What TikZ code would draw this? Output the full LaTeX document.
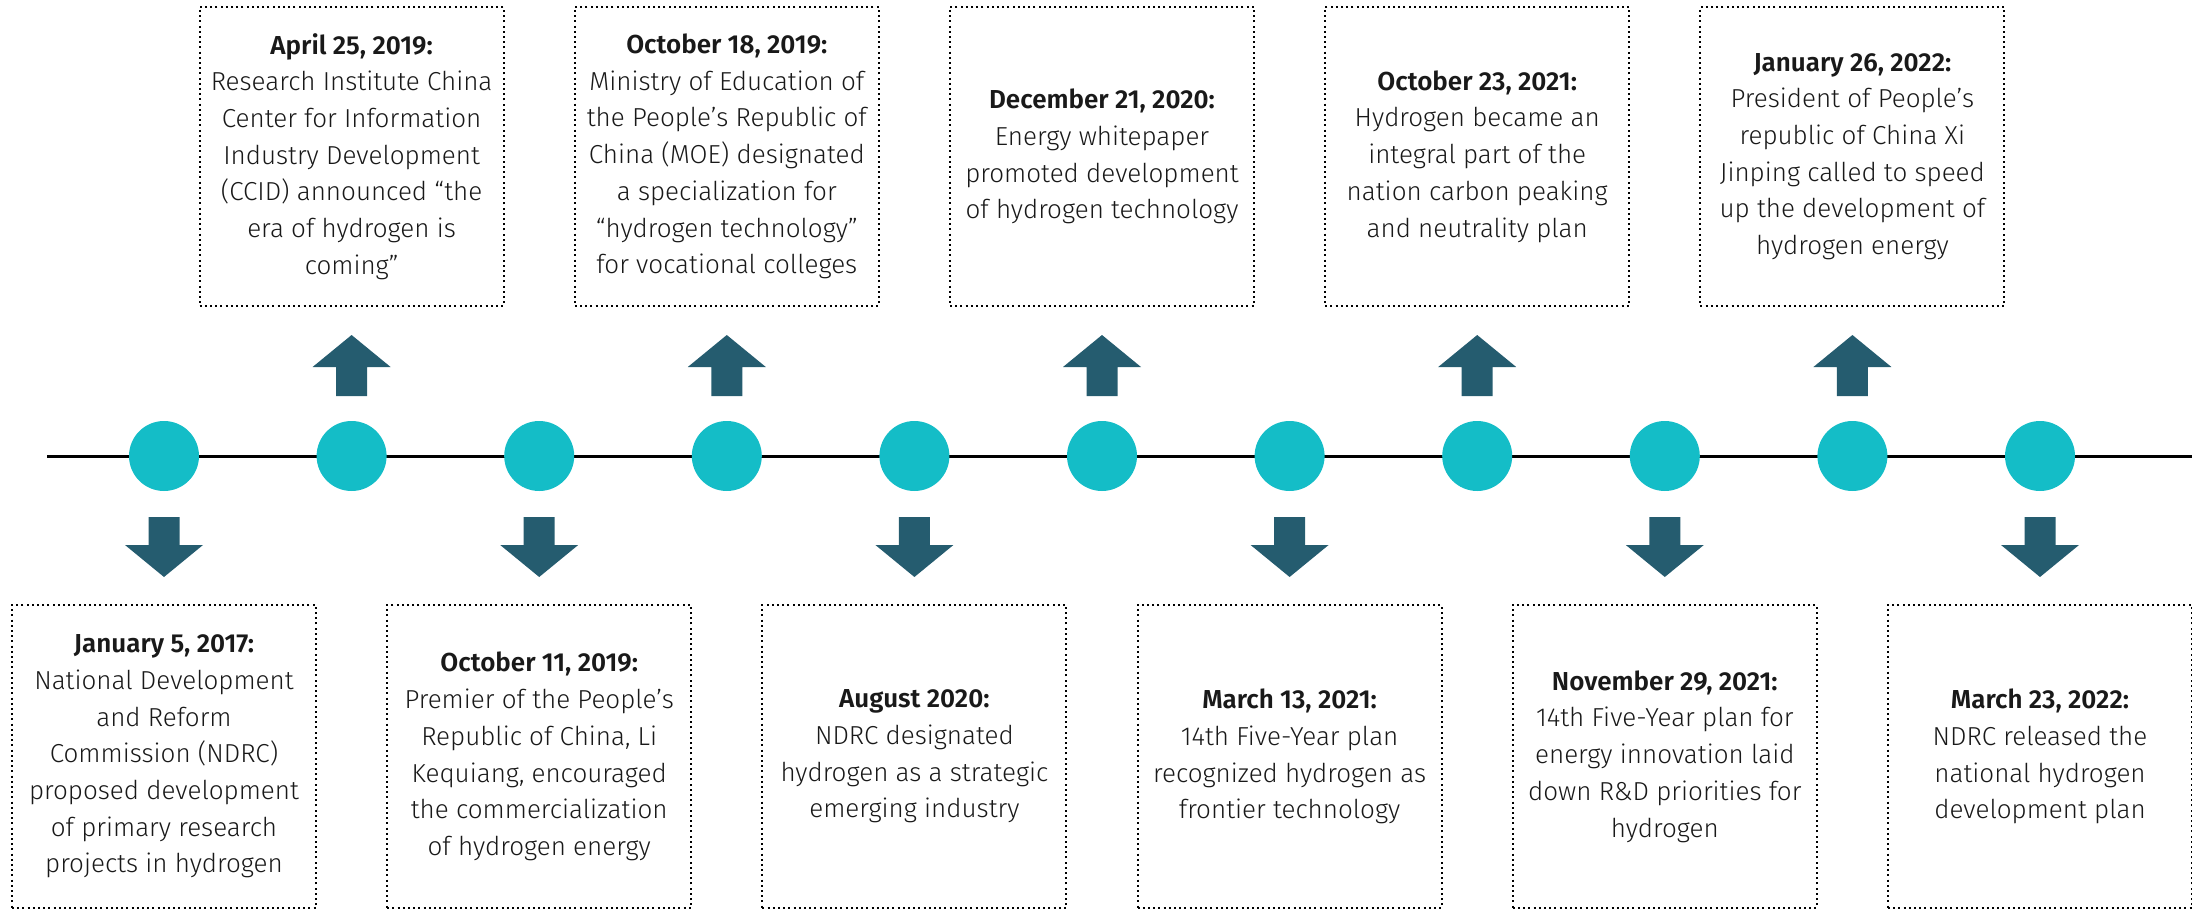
\documentclass[tikz,border=0pt]{standalone}
\usepackage{fontspec}
\setmainfont{Fira Sans}[UprightFont=* Light, BoldFont=* SemiBold]
\definecolor{dotc}{HTML}{14BDC7}
\definecolor{arrc}{HTML}{255C6F}
\tikzset{
  evbox/.style={draw=black, line width=2pt, dash pattern=on 2pt off 3.2pt,
    minimum width=304pt, minimum height=#1, align=center, inner sep=0pt,
    font=\fontsize{26}{36.7}\selectfont, text=black!90},
  evbox/.default=299pt,
  dot/.style={circle, fill=dotc, draw=none, minimum size=70pt, inner sep=0pt},
  arr/.style={fill=arrc, draw=none},
  uparr/.pic={\fill[arr] (-15.5,60) -- (-15.5,89) -- (-39,89) -- (0,121) -- (39,89) -- (15.5,89) -- (15.5,60) -- cycle;},
  downarr/.pic={\fill[arr] (-15.5,-61) -- (-15.5,-89) -- (-39,-89) -- (0,-121) -- (39,-89) -- (15.5,-89) -- (15.5,-61) -- cycle;}
}
\begin{document}
\begin{tikzpicture}[x=1pt,y=1pt]
\useasboundingbox (0,0) rectangle (2192,-909);
\clip (0,0) rectangle (2192,-909);
\coordinate (L) at (47,-456);
\coordinate (R) at (2192,-456);
\draw[line width=3pt] (L) -- (R);
\foreach \k in {0,...,10}{
  \node[dot] (c\k) at ({164+187.6*\k},-456) {};
}
\foreach \k in {1,3,5,7,9}{ \pic at (c\k) {uparr}; }
\foreach \k in {0,2,4,6,8,10}{ \pic at (c\k) {downarr}; }
% top boxes
\node[evbox] (t1) at ({164+187.6*1},-156.5) {\textbf{April 25, 2019:}\\Research Institute China\\Center for Information\\Industry Development\\(CCID) announced “the\\era of hydrogen is\\coming”};
\node[evbox] (t3) at ({164+187.6*3},-156.5) {\textbf{October 18, 2019:}\\Ministry of Education of\\the People’s Republic of\\China (MOE) designated\\a specialization for\\“hydrogen technology”\\for vocational colleges};
\node[evbox] (t5) at ({164+187.6*5},-156.5) {\textbf{December 21, 2020:}\\Energy whitepaper\\promoted development\\of hydrogen technology};
\node[evbox] (t7) at ({164+187.6*7},-156.5) {\textbf{October 23, 2021:}\\Hydrogen became an\\integral part of the\\nation carbon peaking\\and neutrality plan};
\node[evbox] (t9) at ({164+187.6*9},-156.5) {\textbf{January 26, 2022:}\\President of People’s\\republic of China Xi\\Jinping called to speed\\up the development of\\hydrogen energy};
% bottom boxes
\node[evbox=303pt] (b0) at ({164+187.6*0},-756.5) {\textbf{January 5, 2017:}\\National Development\\and Reform\\Commission (NDRC)\\proposed development\\of primary research\\projects in hydrogen};
\node[evbox=303pt] (b2) at ({164+187.6*2},-756.5) {\textbf{October 11, 2019:}\\Premier of the People’s\\Republic of China, Li\\Kequiang, encouraged\\the commercialization\\of hydrogen energy};
\node[evbox=303pt] (b4) at ({164+187.6*4},-756.5) {\textbf{August 2020:}\\NDRC designated\\hydrogen as a strategic\\emerging industry};
\node[evbox=303pt] (b6) at ({164+187.6*6},-756.5) {\textbf{March 13, 2021:}\\14th Five-Year plan\\recognized hydrogen as\\frontier technology};
\node[evbox=303pt] (b8) at ({164+187.6*8},-756.5) {\textbf{November 29, 2021:}\\14th Five-Year plan for\\energy innovation laid\\down R\&D priorities for\\hydrogen};
\node[evbox=303pt] (b10) at ({164+187.6*10},-756.5) {\textbf{March 23, 2022:}\\NDRC released the\\national hydrogen\\development plan};
\end{tikzpicture}
\end{document}
